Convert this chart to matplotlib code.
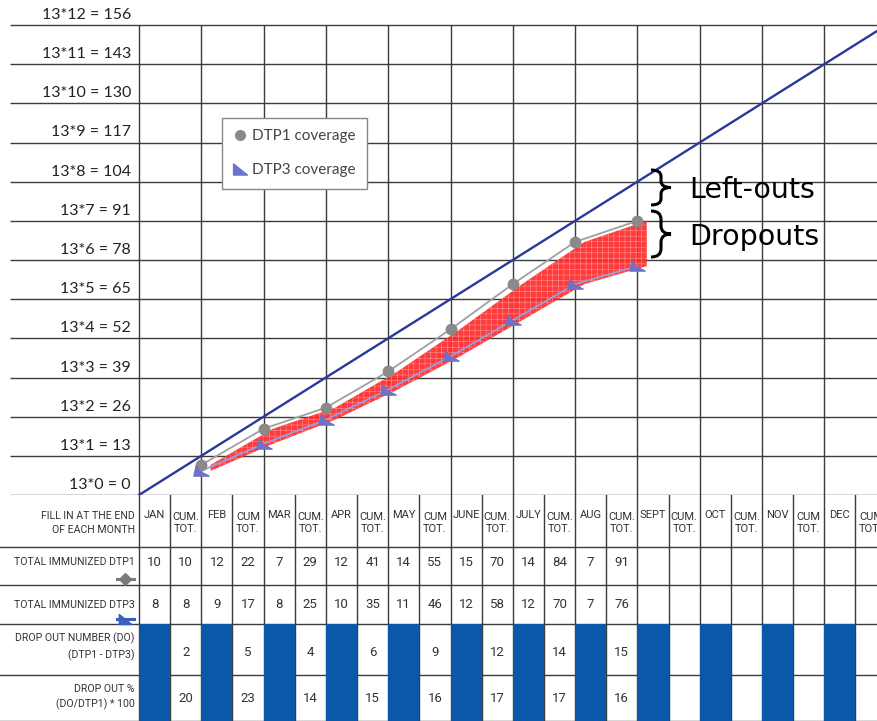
import matplotlib
matplotlib.use('Agg')
import matplotlib.pyplot as plt
import numpy as np
from matplotlib.path import Path
from matplotlib.patches import PathPatch, Rectangle
from matplotlib.lines import Line2D

# ---------------- data ----------------
months = ['JAN', 'FEB', 'MAR', 'APR', 'MAY', 'JUNE', 'JULY', 'AUG', 'SEPT', 'OCT', 'NOV', 'DEC']
cum_labels = ['CUM.\nTOT.', 'CUM\nTOT.', 'CUM.\nTOT.', 'CUM.\nTOT.', 'CUM\nTOT.', 'CUM.\nTOT.',
              'CUM.\nTOT.', 'CUM.\nTOT.', 'CUM.\nTOT.', 'CUM.\nTOT.', 'CUM\nTOT.', 'CUM\nTOT.']
dtp1_month = [10, 12, 7, 12, 14, 15, 14, 7]
dtp1_cum = [10, 22, 29, 41, 55, 70, 84, 91]
dtp3_month = [8, 9, 8, 10, 11, 12, 12, 7]
dtp3_cum = [8, 17, 25, 35, 46, 58, 70, 76]
dropout_num = [2, 5, 4, 6, 9, 12, 14, 15]
dropout_pct = [20, 23, 14, 15, 16, 17, 17, 16]
monthly_target = 13
n_months = 12
row_labels = ['FILL IN AT THE END\nOF EACH MONTH', 'TOTAL IMMUNIZED DTP1', 'TOTAL IMMUNIZED DTP3',
              'DROP OUT NUMBER (DO)\n(DTP1 - DTP3)', 'DROP OUT %\n(DO/DTP1) * 100']

# ---------------- layout ----------------
W, H, DPI = 877, 721, 100
PX_M = 62.3          # pixels per month
X0 = 139             # pixel x of month 0
CH_BOT = 495         # pixel y of chart bottom (from top)
PX_U = 470 / 156     # pixels per unit
TBL_H = H - CH_BOT   # 226
row_edges = [0, 52, 90, 129, 180, 226]

xmin, xmax = -X0 / PX_M, (W - X0) / PX_M
ymax = CH_BOT / PX_U

narrow = ['Roboto', 'DejaVu Sans']
lab_font = ['Lato', 'DejaVu Sans']
grid_c = '#3c3c3c'
blue_line = '#2a3898'
gray_pt = '#8a8a8a'
dtp3_c = '#6d72c6'
cell_blue = '#0b57a8'

plt.rcParams['hatch.linewidth'] = 0.4

fig = plt.figure(figsize=(W / DPI, H / DPI), dpi=DPI)
fig.patch.set_facecolor('white')

# ---------------- chart ----------------
ax = fig.add_axes([0, TBL_H / H, 1, CH_BOT / H])
ax.set_xlim(xmin, xmax)
ax.set_ylim(0, ymax)
ax.axis('off')

levels = np.arange(0, n_months + 1) * monthly_target
x_grid_left = (10 - X0) / PX_M
for lv in levels:
    ax.plot([x_grid_left, xmax], [lv, lv], color=grid_c, lw=1.0, zorder=1, solid_capstyle='butt')
for k in range(n_months + 1):
    ax.plot([k, k], [0, levels[-1]], color=grid_c, lw=1.0, zorder=1, solid_capstyle='butt')
for i, lv in enumerate(levels):
    ax.text(-8 / PX_M, lv + 3 / PX_U, f'13*{i} = {lv}', ha='right', va='bottom',
            fontsize=11.5, family=lab_font, color='#222222')

# target line
mx = np.arange(0, n_months + 1)
ax.plot(mx, mx * monthly_target, color=blue_line, lw=1.7, zorder=4)

xs = np.arange(1, len(dtp1_cum) + 1)
shift = 0.15
ax.fill_between(xs + shift, dtp3_cum, dtp1_cum, facecolor='#ff2a2a', edgecolor='#ff9a9a',
                hatch='+++', lw=0, alpha=0.92, zorder=2)

ax.plot(xs, dtp1_cum, color='#a0a0a0', lw=1.3, zorder=3)
ax.plot(xs, dtp1_cum, 'o', color=gray_pt, ms=7.5, zorder=5)

tri = Path([(-1, -0.6), (-0.7, 0.7), (-0.2, 0.0), (1, -0.6), (-1, -0.6)],
           [Path.MOVETO, Path.LINETO, Path.LINETO, Path.LINETO, Path.CLOSEPOLY])
ax.plot(xs, dtp3_cum, color='#9a9ee0', lw=1.3, zorder=3)
ax.plot(xs, dtp3_cum, linestyle='none', marker=tri, color=dtp3_c, ms=11, zorder=5)

# legend
leg_tri = Path([(-1, -0.8), (-1, 0.8), (1, -0.8), (-1, -0.8)],
               [Path.MOVETO, Path.LINETO, Path.LINETO, Path.CLOSEPOLY])
handles = [Line2D([], [], linestyle='none', marker='o', color=gray_pt, ms=7),
           Line2D([], [], linestyle='none', marker=leg_tri, color=dtp3_c, ms=10)]
leg = fig.legend(handles, ['DTP1 coverage', 'DTP3 coverage'], loc='upper left',
                 bbox_to_anchor=(222 / W, 1 - 118 / H), bbox_transform=fig.transFigure,
                 borderaxespad=0, fancybox=False, edgecolor='#888888', framealpha=1,
                 prop={'family': lab_font, 'size': 11}, labelcolor='#444444',
                 handlelength=0.9, handletextpad=0.3, labelspacing=1.3, borderpad=0.75)
leg.get_frame().set_linewidth(1.0)
leg.set_zorder(10)


def brace(axis, x, y0, y1, w, lw=2.2):
    ym = (y0 + y1) / 2
    d = (y1 - y0) * 0.18
    xm = x + w / 2
    verts = [(x, y1), (xm, y1), (xm, y1 - d),
             (xm, ym + d),
             (xm, ym), (x + w, ym),
             (xm, ym), (xm, ym - d),
             (xm, y0 + d),
             (xm, y0), (x, y0)]
    codes = [Path.MOVETO, Path.CURVE3, Path.CURVE3,
             Path.LINETO,
             Path.CURVE3, Path.CURVE3,
             Path.CURVE3, Path.CURVE3,
             Path.LINETO,
             Path.CURVE3, Path.CURVE3]
    axis.add_patch(PathPatch(Path(verts, codes), fill=False, lw=lw, edgecolor='black', zorder=6))


def py(p):
    return (CH_BOT - p) / PX_U


def pxm(p):
    return (p - X0) / PX_M


brace(ax, pxm(651), py(205), py(170), 20 / PX_M)
brace(ax, pxm(651), py(257), py(211), 20 / PX_M)
ax.text(pxm(689), py(190), 'Left-outs', fontsize=20.5, family='DejaVu Sans', va='center', ha='left')
ax.text(pxm(689), py(237), 'Dropouts', fontsize=20.5, family='DejaVu Sans', va='center', ha='left')

# ---------------- table ----------------
at = fig.add_axes([0, 0, 1, TBL_H / H])
at.set_xlim(xmin, xmax)
at.set_ylim(TBL_H, 0)
at.axis('off')

for e in row_edges[1:]:
    at.plot([xmin, xmax], [e, e], color=grid_c, lw=1.0, zorder=1)
for c in np.arange(0, n_months + 0.5, 0.5):
    at.plot([c, c], [0, TBL_H], color=grid_c, lw=1.0, zorder=1)

for k in range(n_months):
    at.add_patch(Rectangle((k, row_edges[3]), 0.5, TBL_H - row_edges[3], facecolor=cell_blue,
                           edgecolor='none', zorder=2))

fs_h = 8
fs_n = 9.5
fs_l = 7.6
tc = '#333333'
for k, m in enumerate(months):
    at.text(k + 0.25, 20, m, ha='center', va='center', fontsize=fs_h, family=narrow, color=tc)
    at.text(k + 0.75, 28, cum_labels[k], ha='center', va='center', fontsize=fs_h, family=narrow,
            color=tc, linespacing=1.35)

for k in range(len(dtp1_cum)):
    at.text(k + 0.25, 67, str(dtp1_month[k]), ha='center', va='center', fontsize=fs_n, family=narrow, color=tc)
    at.text(k + 0.75, 67, str(dtp1_cum[k]), ha='center', va='center', fontsize=fs_n, family=narrow, color=tc)
    at.text(k + 0.25, 110, str(dtp3_month[k]), ha='center', va='center', fontsize=fs_n, family=narrow, color=tc)
    at.text(k + 0.75, 110, str(dtp3_cum[k]), ha='center', va='center', fontsize=fs_n, family=narrow, color=tc)
    at.text(k + 0.75, 157, str(dropout_num[k]), ha='center', va='center', fontsize=fs_n, family=narrow, color=tc)
    at.text(k + 0.75, 203, str(dropout_pct[k]), ha='center', va='center', fontsize=fs_n, family=narrow, color=tc)

lx = pxm(135)
label_y = [28, 67, 110, 152, 202]
for lbl, yy in zip(row_labels, label_y):
    at.text(lx, yy, lbl, ha='right', va='center', fontsize=fs_l, family=narrow, color=tc, linespacing=1.6)

# row icons
at.plot([pxm(117), pxm(134)], [84, 84], color='#7a7a7a', lw=2.2, zorder=3)
at.plot([pxm(125.5)], [84], marker='D', color='#7a7a7a', ms=6, zorder=3)
at.plot([pxm(117), pxm(134)], [124, 124], color='#3a5fc0', lw=2.2, zorder=3)
at.plot([pxm(125.5)], [124], marker=leg_tri, color='#3a5fc0', ms=9, zorder=3)

fig.savefig('out.png', dpi=DPI, facecolor='white')
